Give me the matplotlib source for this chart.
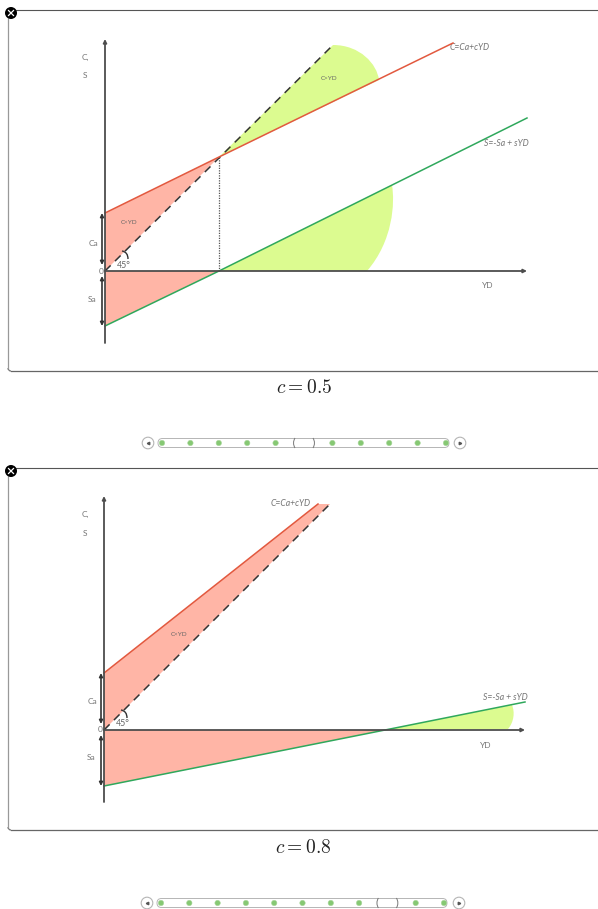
#!/usr/bin/env python3
"""
Consumption and saving functions against disposable income, for c = 0.5 and c = 0.8.
"""

import matplotlib
matplotlib.use('Agg')
import matplotlib.pyplot as plt
from matplotlib.patches import Circle, FancyBboxPatch, PathPatch, Polygon
from matplotlib.path import Path

W, H = 598, 909

plt.rcParams['font.family'] = ['Lato', 'DejaVu Sans']
plt.rcParams['mathtext.fontset'] = 'cm'

RED_FILL = '#ffb5a6'
GREEN_FILL = '#dcfb90'
RED_LINE = '#e2593f'
GREEN_LINE = '#2fa85c'
AXIS = '#4d4d4d'
LABEL = '#757575'

# values, in the chart's own units (origin at YD=0, C=0)
slider_steps = [0.0, 0.1, 0.2, 0.3, 0.4, 0.5, 0.6, 0.7, 0.8, 0.9, 1.0]

# c = 0.5
c1 = 0.5
yd45_1 = [0, 228]
line45_1 = [0, 226]
ydc_1 = [0, 114, 348]
cons_1 = [58, 114, 228]
yds_1 = [0, 114, 422]
sav_1 = [-55, 0, 153]

# c = 0.8
c2 = 0.8
yd45_2 = [0, 226]
line45_2 = [0, 226]
ydc_2 = [0, 214]
cons_2 = [57, 226]
yds_2 = [0, 281, 421]
sav_2 = [-56, 0, 28]


def arrow(ax, p0, p1, color=AXIS, lw=1.3, both=False):
    style = '<|-|>' if both else '-|>'
    ax.annotate('', xy=p1, xytext=p0,
                arrowprops=dict(arrowstyle=style, color=color, lw=lw, mutation_scale=5,
                                shrinkA=0, shrinkB=0), zorder=6)


def fill_curved(ax, verts, codes, color=GREEN_FILL):
    ax.add_patch(PathPatch(Path(verts, codes), fc=color, ec='none', zorder=1))


def draw_common(ax, ca, sa, ytop, ybot, xend):
    """axes, double arrows and the labels both panels share"""
    arrow(ax, (0, ybot), (0, ytop))
    arrow(ax, (0, 0), (xend, 0))
    arrow(ax, (-3, 6), (-3, ca), color='#333333', lw=1.2, both=True)
    arrow(ax, (-3, -5), (-3, -sa), color='#333333', lw=1.2, both=True)
    ax.text(-4, 0, '0', fontsize=6, color=LABEL, ha='center', va='center', zorder=7)
    ax.text(-12, 28, 'Ca', fontsize=6, color=LABEL, ha='center', va='center')
    ax.text(-13, -28, 'Sa', fontsize=6, color=LABEL, ha='center', va='center')
    ax.text(19, 6, '45°', fontsize=6.3, color='#666666', ha='center', va='center')
    # the little 45 degree arc
    ax.add_patch(PathPatch(Path([(17, 20), (23, 19), (23, 12)], [Path.MOVETO, Path.CURVE3, Path.CURVE3]),
                           fc='none', ec='#333333', lw=1.0, zorder=6))


def draw_panel1(ax):
    fill_curved(ax, [(114, 114), (228, 226), (255, 226), (272, 207), (274, 191), (114, 114)],
                [Path.MOVETO, Path.LINETO, Path.CURVE4, Path.CURVE4, Path.CURVE4, Path.CLOSEPOLY])
    fill_curved(ax, [(114, 0), (287, 86), (290, 68), (288, 30), (262, 0), (114, 0)],
                [Path.MOVETO, Path.LINETO, Path.CURVE4, Path.CURVE4, Path.CURVE4, Path.CLOSEPOLY])
    ax.add_patch(Polygon([(0, 0), (ydc_1[0], cons_1[0]), (ydc_1[1], cons_1[1])], fc=RED_FILL, ec='none', zorder=1))
    ax.add_patch(Polygon([(0, 0), (yds_1[1], sav_1[1]), (yds_1[0], sav_1[0])], fc=RED_FILL, ec='none', zorder=1))

    ax.plot(yd45_1, line45_1, color='#333333', lw=1.1, dashes=(5.2, 4), zorder=3)
    ax.plot([114, 114], [0, 114], color='#555555', lw=0.9, ls=(0, (1, 1)), zorder=3)
    ax.plot(ydc_1, cons_1, color=RED_LINE, lw=1.1, zorder=4)
    ax.plot(yds_1, sav_1, color=GREEN_LINE, lw=1.1, zorder=4)
    draw_common(ax, 58, 55, 232, -72, 422)

    ax.text(-20, 214, 'C,', fontsize=6, color=LABEL, ha='center', va='center')
    ax.text(-20, 195, 'S', fontsize=6, color=LABEL, ha='center', va='center')
    ax.text(224, 192, 'C>YD', fontsize=4.6, color='#666666', ha='center', va='center')
    ax.text(24, 49, 'C<YD', fontsize=4.6, color='#666666', ha='center', va='center')
    ax.text(345, 223, 'C=Ca+cYD', fontsize=6.2, style='italic', color=LABEL, va='center')
    ax.text(379, 127, 'S=-Sa + sYD', fontsize=6.2, style='italic', color=LABEL, va='center')
    ax.text(383, -15, 'YD', fontsize=6, color=LABEL, ha='center', va='center')


def draw_panel2(ax):
    ax.add_patch(Polygon([(0, 0), (ydc_2[0], cons_2[0]), (ydc_2[1], cons_2[1]), (yd45_2[1], line45_2[1])],
                         fc=RED_FILL, ec='none', zorder=1))
    ax.add_patch(Polygon([(0, 0), (yds_2[1], sav_2[1]), (yds_2[0], sav_2[0])], fc=RED_FILL, ec='none', zorder=1))
    fill_curved(ax, [(281, 0), (408, 25), (411, 18), (410, 8), (404, 1), (281, 0)],
                [Path.MOVETO, Path.LINETO, Path.CURVE4, Path.CURVE4, Path.CURVE4, Path.CLOSEPOLY])

    ax.plot(yd45_2, line45_2, color='#333333', lw=1.1, dashes=(5.2, 4), zorder=3)
    ax.plot(ydc_2, cons_2, color=RED_LINE, lw=1.1, zorder=4)
    ax.plot(yds_2, sav_2, color=GREEN_LINE, lw=1.1, zorder=4)
    draw_common(ax, 57, 56, 234, -72, 421)

    ax.text(-19, 216, 'C,', fontsize=6, color=LABEL, ha='center', va='center')
    ax.text(-19, 197, 'S', fontsize=6, color=LABEL, ha='center', va='center')
    ax.text(75, 96, 'C<YD', fontsize=4.6, color='#666666', ha='center', va='center')
    ax.text(187, 226, 'C=Ca+cYD', fontsize=6.2, style='italic', color=LABEL, ha='center', va='center')
    ax.text(401, 33, 'S=-Sa + sYD', fontsize=6.2, style='italic', color=LABEL, ha='center', va='center')
    ax.text(382, -15, 'YD', fontsize=6, color=LABEL, ha='center', va='center')


def draw_frame(page, top, bottom):
    page.plot([8, W], [top, top], color='#555555', lw=0.8)
    page.plot([8, 8], [top, bottom - 3], color='#999999', lw=0.9)
    page.plot([11, W], [bottom, bottom], color='#666666', lw=0.9)
    page.add_patch(PathPatch(Path([(8, bottom - 3), (8, bottom), (11, bottom)], [Path.MOVETO, Path.CURVE3, Path.CURVE3]),
                             fc='none', ec='#777777', lw=0.9))
    # close button
    cy = top + 3
    page.add_patch(Circle((11, cy), 6, fc='black', ec='none', zorder=8))
    page.plot([8.5, 13.5], [cy - 2.5, cy + 2.5], color='white', lw=0.9, zorder=9)
    page.plot([8.5, 13.5], [cy + 2.5, cy - 2.5], color='white', lw=0.9, zorder=9)


def draw_slider(page, value, y, x0, x1, xl, xr):
    """x0 and x1 are the centres of the first and last stop"""
    page.add_patch(FancyBboxPatch((x0 - 4, y - 4.5), x1 - x0 + 7, 9, boxstyle='round,pad=0,rounding_size=4.5',
                                  fc='white', ec='#b5b5b5', lw=0.7, zorder=2))
    for s in slider_steps:
        x = x0 + s * (x1 - x0)
        if s == value:
            # only the two curved ends of the thumb show
            for xa, xb in ((x - 9, x - 12), (x + 9, x + 12)):
                page.add_patch(PathPatch(Path([(xa, y - 5), (xb, y), (xa, y + 5)], [Path.MOVETO, Path.CURVE3, Path.CURVE3]),
                                         fc='none', ec='#777777', lw=0.7, zorder=4))
        else:
            page.add_patch(Circle((x, y), 2.7, fc='#86c873', ec='#a9d79c', lw=0.4, zorder=3))
    for bx, mark in ((xl, '<'), (xr, '>')):
        page.add_patch(Circle((bx, y), 5.8, fc='white', ec='#b5b5b5', lw=0.8, zorder=3))
        page.plot([bx], [y], marker=mark, ms=1.8, color='#555555', zorder=4)


def make_panel(fig, ox, oy):
    ax = fig.add_axes([0, 0, 1, 1], facecolor='none')
    ax.set_xlim(-ox, W - ox)
    ax.set_ylim(oy - H, oy)
    ax.axis('off')
    return ax


def main():
    fig = plt.figure(figsize=(W / 100, H / 100), dpi=100)
    page = fig.add_axes([0, 0, 1, 1])
    page.set_xlim(0, W)
    page.set_ylim(H, 0)
    page.axis('off')

    draw_panel1(make_panel(fig, 105, 271))
    draw_panel2(make_panel(fig, 104, 730))

    draw_frame(page, 10, 371)
    draw_frame(page, 468, 830)

    page.text(304, 387, r'$c = {}$'.format(c1), fontsize=14, color='#222222', ha='center', va='center')
    page.text(303, 847, r'$c = {}$'.format(c2), fontsize=14, color='#222222', ha='center', va='center')

    draw_slider(page, c1, 443, 162, 446, 148, 460)
    draw_slider(page, c2, 903, 161, 444, 147, 459)

    fig.savefig('out.png', dpi=100)


if __name__ == '__main__':
    main()
